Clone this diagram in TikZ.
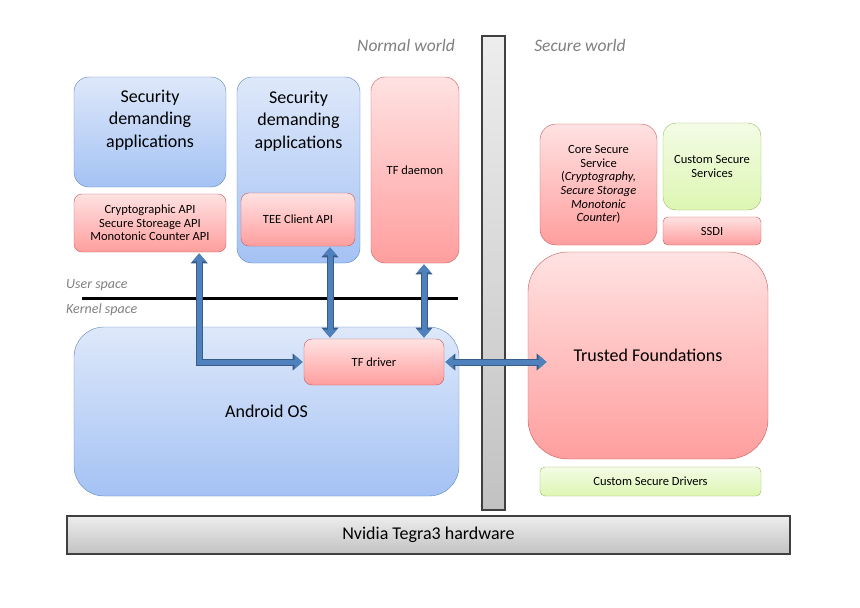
\documentclass[tikz,border=0pt]{standalone}
\usepackage{fontspec}
\setmainfont{Carlito}
\usetikzlibrary{positioning, arrows.meta}

\definecolor{bluetop}{HTML}{DEE8FA}
\definecolor{bluebot}{HTML}{A4C2F4}
\definecolor{blueedge}{HTML}{5B86C0}
\definecolor{redtop}{HTML}{FFE2E2}
\definecolor{redbot}{HTML}{FF9E9E}
\definecolor{rededge}{HTML}{C85A5A}
\definecolor{greentop}{HTML}{F3FCE6}
\definecolor{greenbot}{HTML}{DDF6B2}
\definecolor{greenedge}{HTML}{9BBB59}
\definecolor{graytop}{HTML}{EDEDED}
\definecolor{graybot}{HTML}{C2C2C2}
\definecolor{grayedge}{HTML}{404040}
\definecolor{labelgray}{HTML}{808080}
\definecolor{arrowblue}{HTML}{4F81BD}
\definecolor{arrowedge}{HTML}{385D8A}

\begin{document}
\begin{tikzpicture}[x=1pt, y=-1pt,
  bluebox/.style={draw=blueedge, top color=bluetop, bottom color=bluebot, rounded corners=15pt, align=center, font=\fontsize{18}{22.5}\selectfont},
  redbox/.style={draw=rededge, top color=redtop, bottom color=redbot, rounded corners=8pt, align=center, font=\fontsize{12.5}{13.6}\selectfont},
  greenbox/.style={draw=greenedge, top color=greentop, bottom color=greenbot, rounded corners=8pt, align=center, font=\fontsize{12.5}{13.6}\selectfont},
  graybox/.style={draw=grayedge, line width=1.2pt, top color=graytop, bottom color=graybot},
  bigtxt/.style={align=center, font=\fontsize{18}{22.5}\selectfont},
  worldtxt/.style={text=labelgray, font=\fontsize{17.5}{20}\selectfont\itshape},
  spacetxt/.style={text=labelgray, font=\fontsize{14}{16}\selectfont\itshape, anchor=west, inner sep=0pt},
  dblarrow/.style={draw=arrowblue, line width=5pt, shorten >=1.2pt, shorten <=1.2pt,
    {Triangle[length=8pt,width=13pt]}-{Triangle[length=8pt,width=13pt]},
    preaction={draw=arrowedge, line width=7pt, {Triangle[length=10pt,width=16.5pt]}-{Triangle[length=10pt,width=16.5pt]}}}]
  \useasboundingbox (0,0) rectangle (860,608);

  % worlds
  \node[worldtxt] (normalw) at (406,45) {Normal world};
  \node[worldtxt] (securew) at (580,45) {Secure world};
  \node[graybox, minimum width=23pt, minimum height=474pt] (bar) at (493.5,273) {};

  % normal world, user space
  \node[bluebox, minimum width=152pt, minimum height=110pt] (secapp1) at (150,132) {};
  \node[bigtxt] (secapp1txt) at (150,120) {Security\\demanding\\applications};
  \node[redbox, minimum width=152pt, minimum height=58pt] (cryptoapi) at (150,223)
    {Cryptographic API\\Secure Storeage API\\Monotonic Counter API};
  \node[bluebox, minimum width=123pt, minimum height=186pt] (secapp2) at (298.5,170) {};
  \node[bigtxt] (secapp2txt) at (298.5,121) {Security\\demanding\\applications};
  \node[redbox, minimum width=114pt, minimum height=53pt] (teeapi) at (298,219.5) {TEE Client API};
  \node[redbox, rounded corners=14pt, minimum width=88pt, minimum height=186pt] (tfdaemon) at (415,170) {TF daemon};

  \node[spacetxt] (userspace) at (66,285) {User space};
  \node[spacetxt] (kernelspace) at (66,310) {Kernel space};
  \coordinate (sep1) at (82,298);
  \coordinate (sep2) at (458,298);
  \draw[line width=3pt] (sep1) -- (sep2);

  % kernel
  \node[bluebox, rounded corners=30pt, minimum width=385pt, minimum height=169pt] (androidos) at (266.5,411.5) {Android OS};
  \node[redbox, minimum width=140pt, minimum height=46pt] (tfdriver) at (374,362) {TF driver};

  % secure world
  \node[redbox, rounded corners=16pt, minimum width=117pt, minimum height=121pt] (coresvc) at (598.5,184.5)
    {Core Secure\\Service\\(\textit{Cryptography,}\\\textit{Secure Storage}\\\textit{Monotonic}\\\textit{Counter})};
  \node[greenbox, rounded corners=13pt, minimum width=98pt, minimum height=87pt] (customsvc) at (712,166.5) {Custom Secure\\Services};
  \node[redbox, rounded corners=5pt, minimum width=98pt, minimum height=28pt] (ssdi) at (712,231) {SSDI};
  \node[redbox, rounded corners=40pt, font=\fontsize{18}{22.5}\selectfont, minimum width=240pt, minimum height=207pt] (trusted) at (648,355.5) {Trusted Foundations};
  \node[greenbox, rounded corners=5pt, minimum width=221pt, minimum height=29pt] (customdrv) at (650.5,481.5) {Custom Secure Drivers};

  % hardware
  \node[graybox, font=\fontsize{18}{22}\selectfont, minimum width=723pt, minimum height=38pt] (hardware) at (428.5,535) {Nvidia Tegra3 hardware};

  % calls
  \coordinate (tfin) at ([xshift=20pt]trusted.west);
  \draw[dblarrow] ([xshift=-27pt]cryptoapi.south east) |- (tfdriver.west);
  \draw[dblarrow] ([xshift=32pt]teeapi.south) -- ([xshift=32pt]teeapi.south |- tfdriver.north);
  \draw[dblarrow] ([xshift=9pt]tfdaemon.south) -- ([xshift=9pt]tfdaemon.south |- tfdriver.north);
  \draw[dblarrow] (tfdriver.east) -- (tfdriver.east -| tfin);
\end{tikzpicture}
\end{document}
